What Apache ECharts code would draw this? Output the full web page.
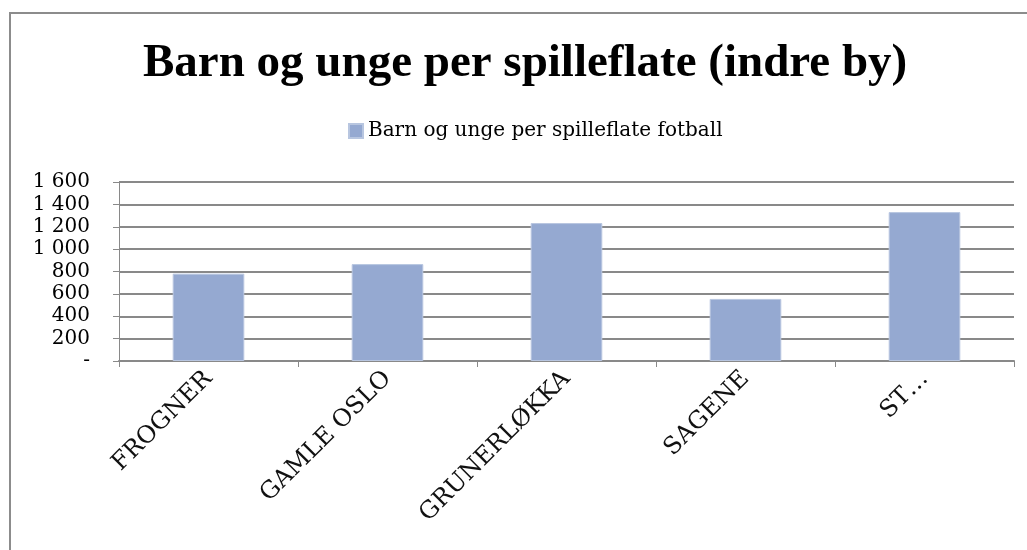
<!DOCTYPE html>
<html>
<head>
<meta charset="utf-8">
<script src="https://cdn.jsdelivr.net/npm/echarts@6/dist/echarts.min.js"></script>
<style>
  html, body { margin: 0; padding: 0; background: #fff; }
  #chart { width: 1027px; height: 550px; }
</style>
</head>
<body>
<div id="chart"></div>
<script>
var categories = ['FROGNER', 'GAMLE OSLO', 'GRUNERLØKKA', 'SAGENE', 'ST…'];
var values = [781, 866, 1233, 555, 1331];
var seriesName = 'Barn og unge per spilleflate fotball';
var titleText = 'Barn og unge per spilleflate (indre by)';

var serif = '"Liberation Serif", "DejaVu Serif", serif';
var wideSerif = '"DejaVu Serif", "Liberation Serif", serif';
var gridColor = '#898989';

var myChart = echarts.init(document.getElementById('chart'));

function fmtY(v) {
    if (v === 0) return '-';
    return String(v).replace(/\B(?=(\d{3})+(?!\d))/g, ' ');
}

var option = {
    backgroundColor: '#fff',
    color: ['#95a9d1'],
    animation: false,
    title: {
        text: titleText,
        left: 138,
        top: 35,
        textStyle: { fontFamily: serif, fontSize: 47, fontWeight: 'bold', color: '#000' }
    },
    legend: {
        data: [seriesName],
        left: 343,
        top: 116,
        icon: 'rect',
        itemWidth: 14,
        itemHeight: 14,
        itemGap: 4,
        textStyle: { fontFamily: wideSerif, fontSize: 20, color: '#000' }
    },
    // frame around the chart, only top and left sides are visible
    graphic: [{
        type: 'rect',
        shape: { x: 10, y: 13, width: 1100, height: 600 },
        style: { fill: null, stroke: '#8c8c8c', lineWidth: 2 },
        silent: true
    }],
    grid: {
        top: 182,
        left: 119,
        right: 13,
        bottom: 189
    },
    xAxis: {
        type: 'category',
        data: categories,
        axisLine: { lineStyle: { color: gridColor, width: 2 } },
        axisTick: { show: true, length: 6, lineStyle: { color: gridColor, width: 1 } },
        axisLabel: {
            rotate: 45,
            margin: 14,
            fontFamily: wideSerif,
            fontSize: 24,
            color: '#111'
        }
    },
    yAxis: {
        type: 'value',
        min: 0,
        max: 1600,
        interval: 200,
        axisLine: { show: true, lineStyle: { color: gridColor, width: 1 } },
        axisTick: { show: true, length: 6, lineStyle: { color: gridColor } },
        splitLine: { lineStyle: { color: gridColor, width: 2 } },
        axisLabel: {
            formatter: fmtY,
            margin: 29,
            fontFamily: wideSerif,
            fontSize: 20,
            color: '#000'
        }
    },
    series: [{
        name: seriesName,
        type: 'bar',
        data: values,
        barCategoryGap: '60%',
        itemStyle: { borderColor: '#b8c6e0', borderWidth: 1 }
    }]
};

myChart.setOption(option);
</script>
</body>
</html>
